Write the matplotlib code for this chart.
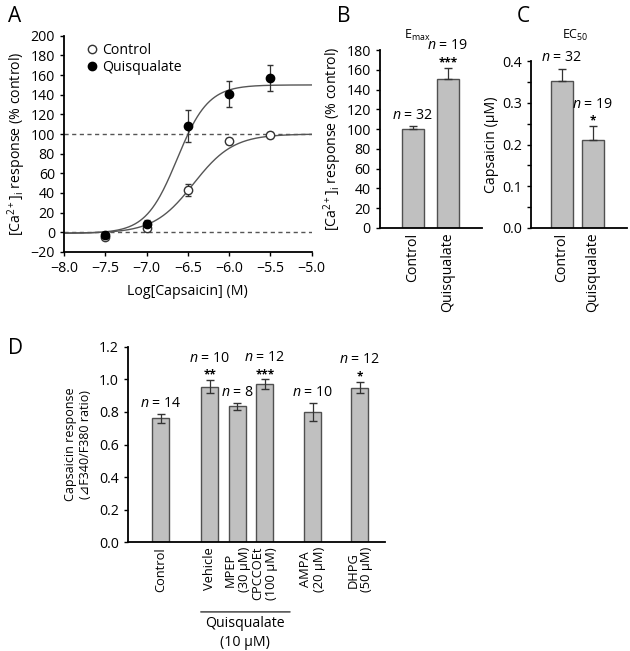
import numpy as np
import matplotlib
matplotlib.use("Agg")
import matplotlib.pyplot as plt

plt.rcParams['font.family'] = ['Open Sans', 'DejaVu Sans']
plt.rcParams['mathtext.fontset'] = 'custom'
plt.rcParams['mathtext.rm'] = 'Open Sans'
plt.rcParams['mathtext.it'] = 'Open Sans:italic'
plt.rcParams['font.size'] = 10.2

# ---- Panel A data ----
log_conc = [-7.5, -7.0, -6.5, -6.0, -5.5]
ctrl_resp = [-5, 4, 43, 93, 99]
ctrl_err = [2, 3, 6, 3, 3]
quis_resp = [-3, 8, 108, 141, 157]
quis_err = [3, 5, 16, 13, 13]
# Hill fit parameters (bottom, top, logEC50, slope)
ctrl_fit = (-1, 100, -6.43, 1.8)
quis_fit = (-1, 150, -6.63, 2.3)

# ---- Panel B / C data ----
bc_groups = ['Control', 'Quisqualate']
emax_vals = [100, 151]
emax_err = [3, 11]
emax_n = [32, 19]
emax_sig = ['', '***']
ec50_vals = [0.352, 0.212]
ec50_err = [0.03, 0.032]
ec50_n = [32, 19]
ec50_sig = ['', '*']

# ---- Panel D data ----
d_labels = ['Control', 'Vehicle', 'MPEP\n(30 μM)', 'CPCCOEt\n(100 μM)',
            'AMPA\n(20 μM)', 'DHPG\n(50 μM)']
d_pos = [0, 1.78, 2.78, 3.78, 5.53, 7.24]
d_vals = [0.76, 0.955, 0.835, 0.97, 0.80, 0.95]
d_err = [0.025, 0.04, 0.02, 0.03, 0.055, 0.035]
d_n = [14, 10, 8, 12, 10, 12]
d_sig = ['', '**', '', '***', '', '*']

bar_face = '#c0c0c0'
bar_edge = '#505050'


def hill(x, bottom, top, logec, slope):
    return bottom + (top - bottom) / (1 + 10 ** ((logec - x) * slope))


def style_axes(ax):
    ax.spines['top'].set_visible(False)
    ax.spines['right'].set_visible(False)
    ax.spines['left'].set_linewidth(1.3)
    ax.spines['bottom'].set_linewidth(1.3)
    ax.tick_params(direction='out', length=3, width=1)


def annotate_bars(ax, xs, vals, errs, ns, sigs):
    for x, v, e, n, s in zip(xs, vals, errs, ns, sigs):
        top = v + e
        if s:
            ax.annotate(s, (x, top), xytext=(0, -1), textcoords='offset points',
                        ha='center', va='bottom', fontsize=8.5, fontweight='bold')
            ax.annotate(f'$n$ = {n}', (x, top), xytext=(0, 10.5),
                        textcoords='offset points', ha='center', va='bottom')
        else:
            ax.annotate(f'$n$ = {n}', (x, top), xytext=(0, 2.5),
                        textcoords='offset points', ha='center', va='bottom')


fig = plt.figure(figsize=(6.3, 6.51), dpi=100)

# ---- A ----
axA = fig.add_axes([0.1016, 0.613, 0.393, 0.332])
style_axes(axA)
xs = np.linspace(-8.0, -5.0, 300)
axA.axhline(100, color='#555555', ls=(0, (3, 2.5)), lw=1)
axA.axhline(0, color='#555555', ls=(0, (3, 2.5)), lw=1)
axA.plot(xs, hill(xs, *ctrl_fit), color='#555555', lw=1)
axA.plot(xs, hill(xs, *quis_fit), color='#555555', lw=1)
axA.errorbar(log_conc, ctrl_resp, yerr=ctrl_err, fmt='o', mfc='white', mec='#333333',
             ecolor='#333333', ms=6, capsize=2.5, elinewidth=0.9, label='Control')
axA.errorbar(log_conc, quis_resp, yerr=quis_err, fmt='o', mfc='black', mec='black',
             ecolor='#333333', ms=6, capsize=2.5, elinewidth=0.9, label='Quisqualate')
axA.set_xlim(-8.0, -5.0)
axA.set_ylim(-20, 200)
xt = np.arange(-8.0, -4.9, 0.5)
axA.set_xticks(xt)
axA.set_xticklabels([f'−{abs(v):.1f}' for v in xt])
axA.set_yticks(np.arange(-20, 201, 20))
axA.set_yticklabels(['−20'] + [str(v) for v in range(0, 201, 20)])
axA.set_xlabel('Log[Capsaicin] (M)', labelpad=6)
axA.set_ylabel('[Ca$^{2+}$]$_\\mathrm{i}$ response (% control)', labelpad=2)
h, l = axA.get_legend_handles_labels()
axA.legend([hh[0] for hh in h], l, loc='upper left', frameon=False,
           handletextpad=0.1, borderaxespad=0.1, labelspacing=0.15,
           handlelength=1.2, bbox_to_anchor=(0.05, 1.0))

# ---- B ----
axB = fig.add_axes([0.603, 0.650, 0.162, 0.273])
style_axes(axB)
xb = np.arange(len(bc_groups))
axB.bar(xb, emax_vals, width=0.63, color=bar_face, edgecolor=bar_edge, lw=1)
axB.errorbar(xb, emax_vals, yerr=[np.zeros(2), emax_err], fmt='none',
             ecolor='#333333', capsize=3, elinewidth=0.9)
annotate_bars(axB, xb, emax_vals, emax_err, emax_n, emax_sig)
axB.set_xlim(-0.94, 1.97)
axB.set_ylim(0, 180)
axB.set_yticks(np.arange(0, 181, 20))
axB.set_xticks(xb)
axB.set_xticklabels(bc_groups, rotation=90)
axB.tick_params(axis='x', length=0)
axB.set_ylabel('[Ca$^{2+}$]$_\\mathrm{i}$ response (% control)', labelpad=2)
fig.text(0.662, 0.946, 'E$_\\mathrm{max}$', fontsize=9, ha='center', va='center')

# ---- C ----
axC = fig.add_axes([0.843, 0.650, 0.152, 0.256])
style_axes(axC)
axC.bar(xb, ec50_vals, width=0.7, color=bar_face, edgecolor=bar_edge, lw=1)
axC.errorbar(xb, ec50_vals, yerr=[np.zeros(2), ec50_err], fmt='none',
             ecolor='#333333', capsize=3, elinewidth=0.9)
annotate_bars(axC, xb, ec50_vals, ec50_err, ec50_n, ec50_sig)
axC.set_xlim(-1.0, 2.1)
axC.set_ylim(0, 0.4)
yc = np.arange(0, 0.41, 0.1)
axC.set_yticks(yc)
axC.set_yticks(np.arange(0.05, 0.4, 0.1), minor=True)
axC.tick_params(axis='y', which='minor', length=3, width=1)
axC.set_yticklabels([f'{v:.1f}' for v in yc])
axC.set_xticks(xb)
axC.set_xticklabels(bc_groups, rotation=90)
axC.tick_params(axis='x', length=0)
axC.set_ylabel('Capsaicin (μM)', labelpad=2)
fig.text(0.913, 0.946, 'EC$_{50}$', fontsize=9, ha='center', va='center')

# ---- D ----
axD = fig.add_axes([0.203, 0.1674, 0.408, 0.2996])
style_axes(axD)
axD.bar(d_pos, d_vals, width=0.62, color=bar_face, edgecolor=bar_edge, lw=1)
axD.errorbar(d_pos, d_vals, yerr=d_err, fmt='none', ecolor='#333333',
             capsize=3, elinewidth=0.9)
annotate_bars(axD, d_pos, d_vals, d_err, d_n, d_sig)
axD.set_xlim(-1.2, 8.15)
axD.set_ylim(0, 1.2)
yd = np.arange(0, 1.21, 0.2)
axD.set_yticks(yd)
axD.set_yticklabels([f'{v:.1f}' for v in yd])
axD.set_xticks(d_pos)
axD.set_xticklabels(d_labels, rotation=90, linespacing=1.1, fontsize=9.3)
axD.tick_params(axis='x', length=0)
axD.set_ylabel('Capsaicin response\n(⊿F340/F380 ratio)', labelpad=5, fontsize=9)

# group line under Quisqualate treatments
axD.annotate('', xy=(1.35, -0.43), xytext=(4.8, -0.43),
             arrowprops=dict(arrowstyle='-', color='#333333', lw=1),
             annotation_clip=False)
axD.text(3.07, -0.455, 'Quisqualate\n(10 μM)', ha='center', va='top',
         linespacing=1.35, clip_on=False)

# panel letters
fig.text(0.012, 0.975, 'A', fontsize=15, va='center')
fig.text(0.535, 0.975, 'B', fontsize=15, va='center')
fig.text(0.82, 0.975, 'C', fontsize=15, va='center')
fig.text(0.012, 0.465, 'D', fontsize=15, va='center')

fig.savefig('out.png', dpi=100)
